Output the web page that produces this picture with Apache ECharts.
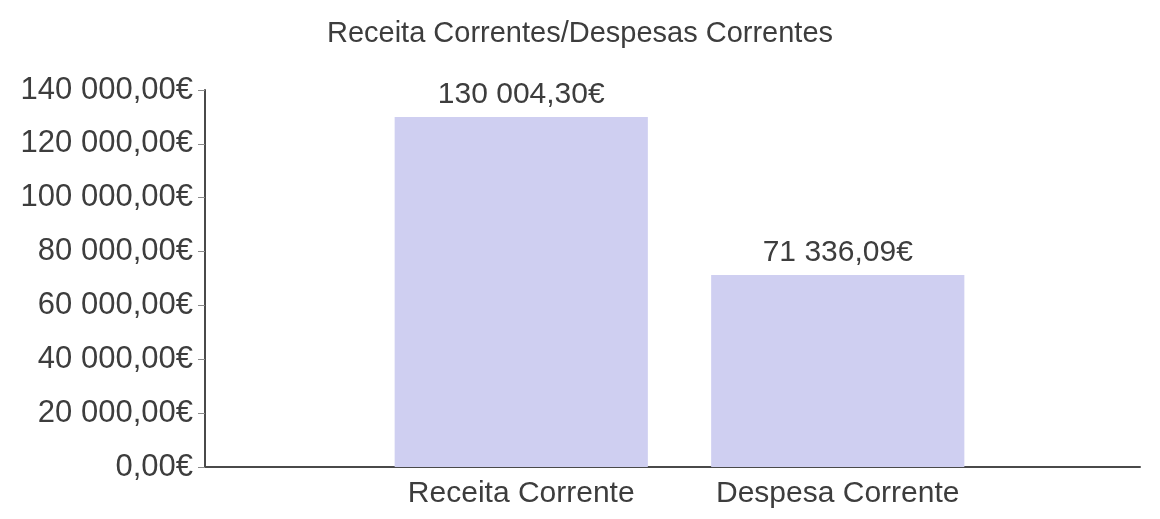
<!DOCTYPE html>
<html>
<head>
<meta charset="utf-8">
<script src="https://cdn.jsdelivr.net/npm/echarts@6/dist/echarts.min.js"></script>
<style>
  html, body { margin: 0; padding: 0; background: #fff; }
  #chart { width: 1160px; height: 519px; }
</style>
</head>
<body>
<div id="chart"></div>
<script>
// dados
var titulo = 'Receita Correntes/Despesas Correntes';
var categorias = ['Receita Corrente', 'Despesa Corrente'];
var valores = [130004.30, 71336.09];
var eixoMin = 0, eixoMax = 140000, eixoPasso = 20000;

function euro(v) {
    var partes = v.toFixed(2).split('.');
    var inteiro = partes[0].replace(/\B(?=(\d{3})+(?!\d))/g, ' ');
    return inteiro + ',' + partes[1] + '€';
}

var fonte = 'Liberation Sans, Arial, sans-serif';
var cor = '#3d3d3d';

var option = {
    backgroundColor: '#ffffff',
    title: {
        text: titulo,
        left: 'center',
        top: 14,
        textStyle: { fontFamily: fonte, fontSize: 29, fontWeight: 'normal', color: cor }
    },
    grid: [
        { left: 205, right: 20, top: 90, bottom: 52 },
        { left: 363, right: 164, top: 90, bottom: 52 }
    ],
    xAxis: [
        {
            gridIndex: 0,
            type: 'value',
            min: 0,
            max: 1,
            axisLine: { show: true, onZero: false, lineStyle: { color: '#4a4a4a', width: 2 } },
            axisTick: { show: false },
            axisLabel: { show: false },
            splitLine: { show: false }
        },
        {
            gridIndex: 1,
            type: 'category',
            data: categorias,
            axisLine: { show: false },
            axisTick: { show: false },
            axisLabel: { fontFamily: fonte, fontSize: 30, color: cor, margin: 12 }
        }
    ],
    yAxis: [
        {
            gridIndex: 0,
            type: 'value',
            min: eixoMin,
            max: eixoMax,
            interval: eixoPasso,
            axisLine: { show: true, lineStyle: { color: '#4a4a4a', width: 2 } },
            axisTick: { show: true, length: 7, lineStyle: { color: '#8a8a8a' } },
            axisLabel: { fontFamily: fonte, fontSize: 31, color: cor, margin: 12, formatter: euro },
            splitLine: { show: false }
        },
        {
            gridIndex: 1,
            type: 'value',
            min: eixoMin,
            max: eixoMax,
            interval: eixoPasso,
            show: false
        }
    ],
    series: [
        {
            type: 'bar',
            xAxisIndex: 1,
            yAxisIndex: 1,
            data: valores,
            barCategoryGap: '20%',
            itemStyle: { color: '#cfcff1' },
            label: {
                show: true,
                position: 'top',
                distance: 7,
                fontFamily: fonte,
                fontSize: 30,
                color: cor,
                formatter: function (p) { return euro(p.value); }
            }
        }
    ]
};

var chart = echarts.init(document.getElementById('chart'));
chart.setOption(option);
</script>
</body>
</html>
